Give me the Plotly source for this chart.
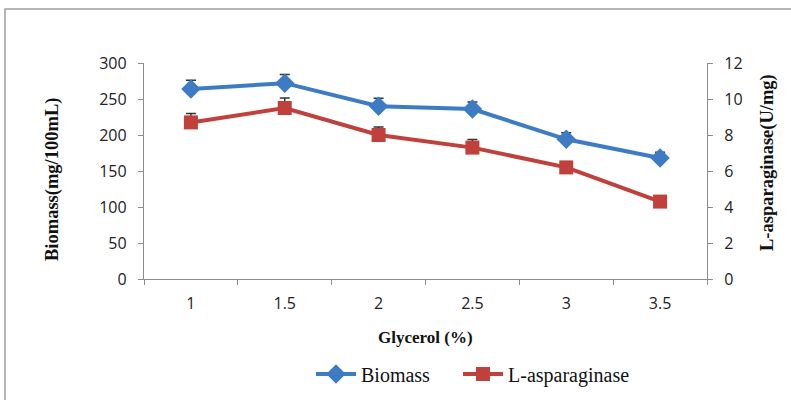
import plotly.graph_objects as go

glycerol = ["1", "1.5", "2", "2.5", "3", "3.5"]
biomass = [264, 272, 240, 236, 194, 168]
biomass_err = [12, 12, 11, 10, 9, 8]
asparaginase = [8.7, 9.5, 8.0, 7.3, 6.2, 4.3]
asparaginase_err = [0.5, 0.55, 0.45, 0.45, 0.2, 0.15]

W, H = 791, 400
ml, mr, mt, mb = 144, 84, 63, 121
pw, ph = W - ml - mr, H - mt - mb

def px_x(x):
    return (x - ml) / pw

def px_y(y):
    return (H - mb - y) / ph

fig = go.Figure()
fig.add_trace(go.Scatter(
    x=glycerol, y=biomass, name="Biomass", mode="lines+markers",
    line=dict(color="#3D7CC4", width=4),
    marker=dict(symbol="diamond", size=15, color="#3D7CC4"),
    error_y=dict(type="data", symmetric=False, array=biomass_err,
                 arrayminus=[0] * len(biomass_err), color="#333333",
                 thickness=1.5, width=5),
    legend="legend",
))
fig.add_trace(go.Scatter(
    x=glycerol, y=asparaginase, name="L-asparaginase", mode="lines+markers",
    yaxis="y2",
    line=dict(color="#C0403C", width=4),
    marker=dict(symbol="square", size=14, color="#C0403C"),
    error_y=dict(type="data", symmetric=False, array=asparaginase_err,
                 arrayminus=[0] * len(asparaginase_err), color="#333333",
                 thickness=1.5, width=5),
    legend="legend2",
))

tickfont = dict(family="Open Sans, Liberation Sans, sans-serif", size=16, color="#222222")
axcol = "#8C8C8C"
legfont = dict(family="Liberation Serif, Times New Roman, serif", size=20,
               color="#111111")
fig.update_layout(
    width=W, height=H,
    margin=dict(l=ml, r=mr, t=mt, b=mb, autoexpand=False),
    paper_bgcolor="white", plot_bgcolor="white",
    showlegend=True,
    xaxis=dict(type="category", range=[-0.5, 5.5], showgrid=False,
               showline=True, linecolor=axcol, linewidth=1.3,
               ticks="outside", tickson="boundaries", ticklen=5,
               tickcolor=axcol, tickfont=tickfont, zeroline=False,
               ticklabelstandoff=10),
    yaxis=dict(range=[0, 300], dtick=50, showgrid=False, showline=True,
               linecolor=axcol, linewidth=1.3, ticks="outside", ticklen=5,
               tickcolor=axcol, tickfont=tickfont, zeroline=False,
               ticklabelstandoff=8),
    yaxis2=dict(range=[0, 12], dtick=2, overlaying="y", side="right",
                showgrid=False, showline=True, linecolor=axcol, linewidth=1.3,
                ticks="outside", ticklen=5, tickcolor=axcol,
                tickfont=tickfont, zeroline=False, ticklabelstandoff=8),
    legend=dict(orientation="h", x=px_x(311), y=px_y(374), xanchor="left",
                yanchor="middle", font=legfont, itemwidth=40,
                bgcolor="rgba(0,0,0,0)"),
    legend2=dict(orientation="h", x=px_x(458), y=px_y(374), xanchor="left",
                 yanchor="middle", font=legfont, itemwidth=40,
                 bgcolor="rgba(0,0,0,0)"),
)

titlefont = dict(family="Liberation Serif, Times New Roman, serif", size=17,
                 color="#111111")
ytitlefont = dict(family="Liberation Serif, Times New Roman, serif", size=18.5,
                  color="#111111")
fig.add_annotation(text="<b>Glycerol (%)</b>", xref="paper", yref="paper",
                   x=px_x(425), y=px_y(337), showarrow=False, font=titlefont,
                   xanchor="center", yanchor="middle")
fig.add_annotation(text="<b>Biomass(mg/100mL)</b>", xref="paper", yref="paper",
                   x=px_x(52), y=px_y(180), showarrow=False, font=ytitlefont,
                   textangle=-90, xanchor="center", yanchor="middle")
fig.add_annotation(text="<b>L-asparaginase(U/mg)</b>", xref="paper", yref="paper",
                   x=px_x(767), y=px_y(163), showarrow=False, font=ytitlefont,
                   textangle=-90, xanchor="center", yanchor="middle")

fig.add_shape(type="rect", xref="paper", yref="paper",
              x0=px_x(5), x1=px_x(800), y0=px_y(410), y1=px_y(9),
              line=dict(color="#A0A0A0", width=1.5), fillcolor="rgba(0,0,0,0)",
              layer="below")

fig.write_html("out.html")
